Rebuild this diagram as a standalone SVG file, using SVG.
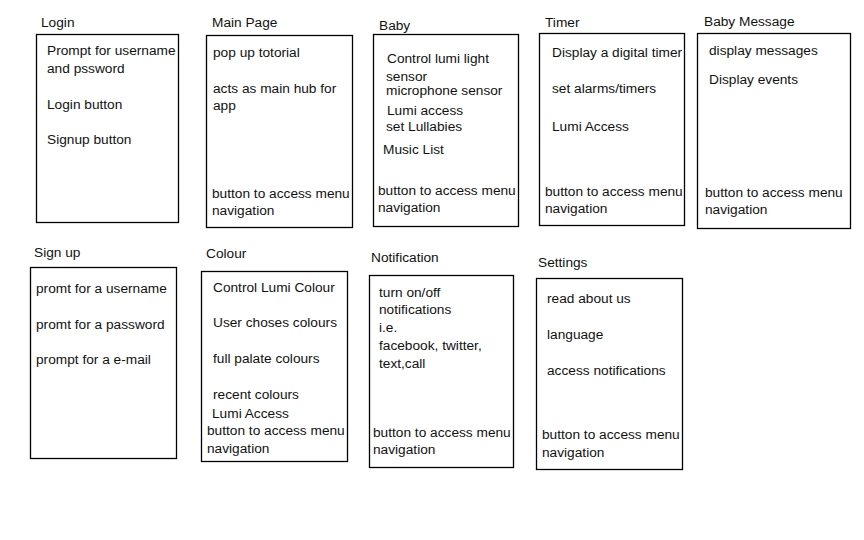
<svg xmlns="http://www.w3.org/2000/svg" width="864" height="540" viewBox="0 0 864 540">
<style>
rect.box{fill:#fff;stroke:#000;stroke-width:1.3}
text{font-family:"Liberation Sans",Arial,sans-serif;font-size:13.7px;fill:#111}
</style>
<rect width="864" height="540" fill="#fff"/>
<g id="login">
<text x="41" y="27">Login</text>
<rect class="box" x="36.5" y="34.5" width="142" height="188"/>
<text x="47" y="55">Prompt for username</text>
<text x="47" y="73">and pssword</text>
<text x="47" y="109">Login button</text>
<text x="47" y="144">Signup button</text>
</g>
<g id="main-page">
<text x="212" y="27">Main Page</text>
<rect class="box" x="206.5" y="35.5" width="146" height="192"/>
<text x="213" y="57">pop up totorial</text>
<text x="213" y="93">acts as main hub for</text>
<text x="213" y="110">app</text>
<text x="212" y="198">button to access menu</text>
<text x="212" y="215">navigation</text>
</g>
<g id="baby">
<text x="379" y="30">Baby</text>
<rect class="box" x="373.5" y="34.5" width="145" height="192"/>
<text x="387" y="63">Control lumi light</text>
<text x="386" y="81">sensor</text>
<text x="386" y="95">microphone sensor</text>
<text x="387" y="115">Lumi access</text>
<text x="386" y="131">set Lullabies</text>
<text x="383" y="154">Music List</text>
<text x="378" y="195">button to access menu</text>
<text x="378" y="212">navigation</text>
</g>
<g id="timer">
<text x="545" y="27">Timer</text>
<rect class="box" x="539.5" y="33.5" width="145" height="192"/>
<text x="552" y="57">Display a digital timer</text>
<text x="552" y="93">set alarms/timers</text>
<text x="552" y="131">Lumi Access</text>
<text x="545" y="196">button to access menu</text>
<text x="545" y="213">navigation</text>
</g>
<g id="baby-message">
<text x="704" y="26">Baby Message</text>
<rect class="box" x="697.5" y="33.5" width="153" height="195"/>
<text x="709" y="55">display messages</text>
<text x="709" y="84">Display events</text>
<text x="705" y="197">button to access menu</text>
<text x="705" y="214">navigation</text>
</g>
<g id="sign-up">
<text x="34" y="257">Sign up</text>
<rect class="box" x="30.5" y="267.5" width="146" height="191"/>
<text x="36" y="293">promt for a username</text>
<text x="36" y="329">promt for a password</text>
<text x="36" y="364">prompt for a e-mail</text>
</g>
<g id="colour">
<text x="206" y="258">Colour</text>
<rect class="box" x="201.5" y="271.5" width="146" height="190"/>
<text x="213" y="292">Control Lumi Colour</text>
<text x="213" y="327">User choses colours</text>
<text x="213" y="363">full palate colours</text>
<text x="213" y="399">recent colours</text>
<text x="212" y="418">Lumi Access</text>
<text x="207" y="435">button to access menu</text>
<text x="207" y="453">navigation</text>
</g>
<g id="notification">
<text x="371" y="262">Notification</text>
<rect class="box" x="369.5" y="275.5" width="144" height="192"/>
<text x="379" y="297">turn on/off</text>
<text x="379" y="314">notifications</text>
<text x="379" y="332">i.e.</text>
<text x="379" y="350">facebook, twitter,</text>
<text x="379" y="368">text,call</text>
<text x="373" y="437">button to access menu</text>
<text x="373" y="454">navigation</text>
</g>
<g id="settings">
<text x="538" y="267">Settings</text>
<rect class="box" x="536.5" y="278.5" width="146" height="191"/>
<text x="547" y="303">read about us</text>
<text x="547" y="339">language</text>
<text x="547" y="375">access notifications</text>
<text x="542" y="439">button to access menu</text>
<text x="542" y="457">navigation</text>
</g>
<g id="connectors"></g>
</svg>
